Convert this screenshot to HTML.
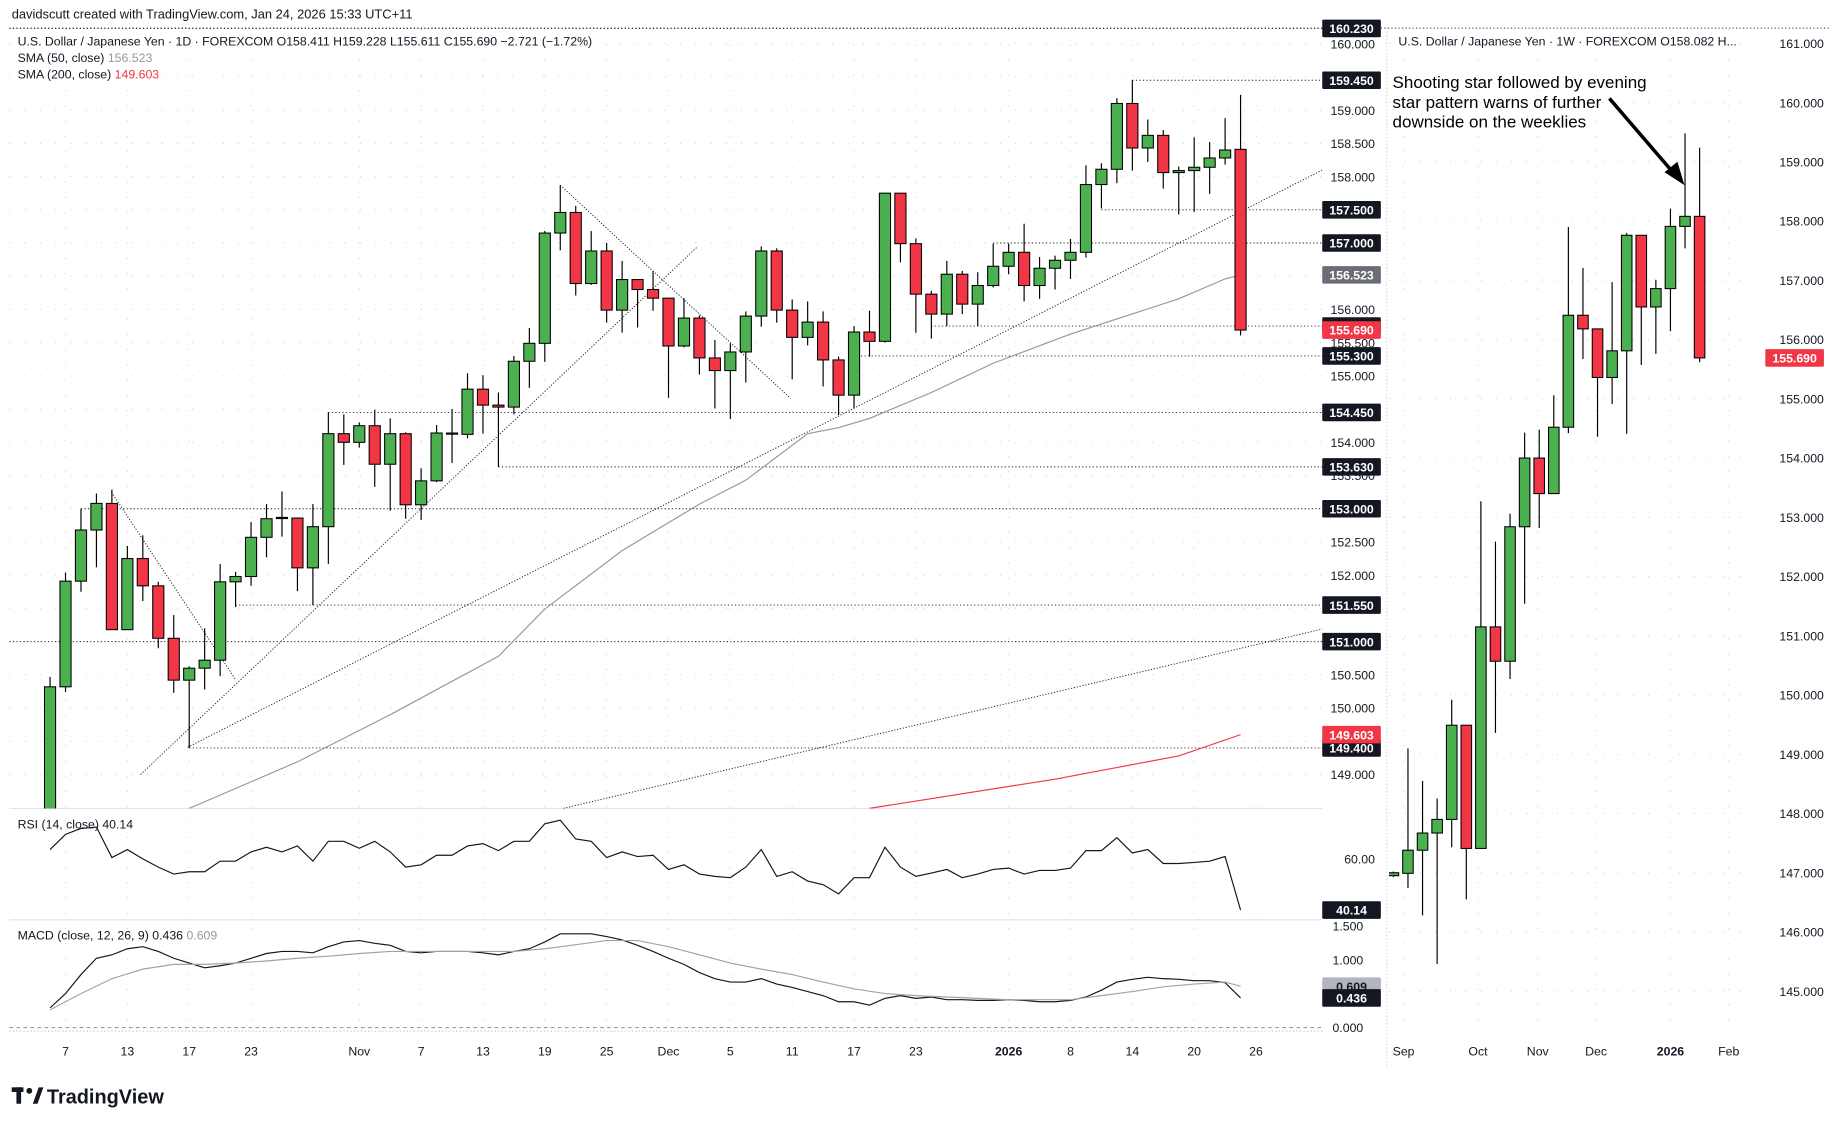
<!DOCTYPE html>
<html><head><meta charset="utf-8"><style>
html,body{margin:0;padding:0;background:#fff;}
svg{display:block;font-family:"Liberation Sans",Arial,sans-serif;}
</style></head><body>
<svg id="chart" width="1838" height="1126" viewBox="0 0 1568 961" preserveAspectRatio="none" xmlns="http://www.w3.org/2000/svg">
<defs>
<clipPath id="dclip"><rect x="8" y="25" width="1120" height="665"/></clipPath>
<clipPath id="wclip"><rect x="1185" y="25" width="305" height="855"/></clipPath>
</defs>
<rect x="0" y="0" width="1568" height="961" fill="#fff"/>
<text x="10" y="16" font-size="11" fill="#131722">davidscutt created with TradingView.com, Jan 24, 2026 15:33 UTC+11</text>
<line x1="8" y1="24" x2="1560" y2="24" stroke="#555" stroke-dasharray="1,2"/>
<line x1="1183" y1="24" x2="1183" y2="910" stroke="#ccc" stroke-dasharray="1,2"/>
<line x1="8" y1="690" x2="1128" y2="690" stroke="#e0e3eb"/>
<line x1="8" y1="785" x2="1128" y2="785" stroke="#e0e3eb"/>
<line x1="8" y1="880" x2="1128" y2="880" stroke="#bbb" stroke-dasharray="1,2"/>
<g id="grid"></g>
<g id="drawings"></g>
<g id="daily" clip-path="url(#dclip)"></g>
<g id="weekly" clip-path="url(#wclip)"></g>
<g id="ind"></g>
<g id="axes"></g>
<text x="15" y="39" font-size="10.5" fill="#131722">U.S. Dollar / Japanese Yen · 1D · FOREXCOM  O158.411  H159.228  L155.611  C155.690  −2.721 (−1.72%)</text>
<text x="15" y="53" font-size="10.5" fill="#131722">SMA (50, close) <tspan fill="#9598a1">156.523</tspan></text>
<text x="15" y="67" font-size="10.5" fill="#131722">SMA (200, close) <tspan fill="#f23645">149.603</tspan></text>
<text x="15" y="707" font-size="10.5" fill="#131722">RSI (14, close) 40.14</text>
<text x="15" y="802" font-size="10.5" fill="#131722">MACD (close, 12, 26, 9)  0.436 <tspan fill="#9598a1">0.609</tspan></text>
<text x="1193" y="39" font-size="10.5" fill="#131722">U.S. Dollar / Japanese Yen · 1W · FOREXCOM  O158.082  H...</text>
<text x="1188" y="75" font-size="14.5" fill="#000"><tspan x="1188" y="75">Shooting star followed by evening</tspan><tspan x="1188" y="92">star pattern warns of further</tspan><tspan x="1188" y="109">downside on the weeklies</tspan></text>
<line x1="1373" y1="84" x2="1428" y2="148" stroke="#000" stroke-width="3"/>
<polygon points="1437,158 1420,147 1431,138" fill="#000"/>
<g>
<rect x="10" y="928" width="10" height="4" fill="#131722"/><rect x="14" y="928" width="4" height="14" fill="#131722"/>
<circle cx="25" cy="931" r="2.5" fill="#131722"/><polygon points="28,942 33,928 37,928 32,942" fill="#131722"/>
<text x="40" y="942" font-size="17" font-weight="bold" fill="#131722">TradingView</text>
</g>
</svg>
<script>
// ---- daily data ----
const dOpen=[148.0,150.32,151.91,152.68,153.08,151.18,152.25,151.84,151.05,150.42,150.6,150.72,151.9,151.98,152.57,152.86,152.86,152.11,152.73,154.13,154.0,154.25,153.67,154.13,153.06,153.42,154.14,154.12,154.80,154.56,154.53,155.22,155.49,157.15,157.46,156.39,156.88,155.99,156.45,156.30,156.17,155.45,155.87,155.27,155.08,155.36,155.90,156.88,155.99,155.58,155.81,155.24,154.71,155.66,155.52,157.75,156.99,156.23,155.93,156.53,156.08,156.36,156.65,156.86,156.36,156.62,156.74,156.86,157.88,158.11,159.10,158.43,158.62,158.06,158.09,158.14,158.28,158.41];
const dHigh=[150.47,152.04,153.0,153.23,153.29,152.44,152.6,151.9,151.4,150.63,151.2,152.17,152.05,152.8,153.07,153.26,152.87,153.07,154.45,154.42,154.3,154.49,154.36,154.15,153.61,154.26,154.5,155.04,155.01,154.75,155.30,155.72,157.18,157.87,157.56,157.18,157.0,156.73,156.45,156.58,156.17,156.17,155.91,155.54,155.49,155.97,156.95,156.92,156.15,156.12,155.97,155.29,155.75,155.98,157.76,157.75,157.07,156.28,156.73,156.58,156.56,156.99,156.99,157.29,156.79,156.81,157.06,158.17,158.20,159.18,159.45,158.86,158.70,158.15,158.59,158.52,158.88,159.23];
const dLow=[147.9,150.24,151.75,152.12,151.18,151.18,151.61,150.9,150.23,149.4,150.28,150.48,151.52,151.84,152.27,152.58,151.76,151.55,152.17,153.66,153.92,153.33,152.97,152.85,152.83,153.4,153.69,154.06,154.13,153.63,154.42,154.82,155.21,156.89,156.21,156.37,155.80,155.65,155.73,155.98,154.67,155.43,155.02,154.51,154.35,154.90,155.74,155.80,154.95,155.46,154.84,154.41,154.51,155.29,155.50,156.71,155.65,155.56,155.75,155.93,155.75,156.33,156.53,156.12,156.16,156.30,156.46,156.78,157.52,157.90,158.09,158.22,157.82,157.43,157.47,157.74,158.18,155.61];
const dClose=[150.32,151.91,152.68,153.08,151.18,152.25,151.84,151.05,150.42,150.6,150.72,151.9,151.98,152.57,152.85,152.87,152.11,152.73,154.13,154.0,154.25,153.67,154.13,153.06,153.42,154.14,154.14,154.80,154.56,154.53,155.22,155.49,157.15,157.46,156.39,156.88,155.99,156.45,156.30,156.17,155.45,155.87,155.27,155.08,155.36,155.90,156.88,155.99,155.58,155.81,155.24,154.71,155.66,155.52,157.75,156.99,156.23,155.93,156.53,156.08,156.36,156.65,156.86,156.36,156.62,156.74,156.86,157.88,158.11,159.10,158.43,158.62,158.06,158.09,158.14,158.28,158.40,155.69];
const sma50Idx=[9,16,22,29,32,37,42,45,49,51,53,57,61,66,73,76,77];
const sma50Val=[148.49,149.19,149.90,150.78,151.49,152.37,153.07,153.43,154.13,154.22,154.36,154.75,155.19,155.63,156.16,156.46,156.52];
const sma200Idx=[53,65,73,77];
const sma200Val=[148.49,148.93,149.28,149.60];
const rsiVal=[63.6,69.5,71.8,72.3,60.5,63.6,60,56.8,54.1,55,55,59.1,59.1,62.7,64.5,62.7,65,59.1,66.8,66.8,64.1,66.8,62.7,56.8,57.7,61.4,61.4,65,65.9,63.2,66.8,66.8,73.6,75,67.7,66.8,60.5,62.7,60.9,61.4,55.9,57.7,54.1,53.2,52.7,56.8,63.6,53.2,55,51.4,50,46.4,52.7,52.7,64.5,56.8,53.2,54.5,55.9,52.7,54.1,55.9,56.4,54.1,55.5,55.5,56.4,63.2,63.2,68.2,62.3,63.6,58.2,58.2,58.6,59.1,60.9,40.14];
const macdVal=[0.29,0.50,0.78,1.02,1.07,1.16,1.19,1.12,1.02,0.95,0.88,0.91,0.95,1.02,1.09,1.12,1.12,1.10,1.19,1.26,1.28,1.24,1.21,1.12,1.10,1.12,1.12,1.12,1.10,1.07,1.12,1.16,1.26,1.38,1.38,1.38,1.34,1.29,1.21,1.12,1.02,0.93,0.81,0.72,0.67,0.67,0.72,0.64,0.59,0.53,0.47,0.38,0.38,0.33,0.43,0.47,0.43,0.45,0.41,0.41,0.40,0.40,0.41,0.40,0.38,0.38,0.40,0.45,0.55,0.67,0.71,0.74,0.72,0.71,0.69,0.69,0.66,0.436];
const signalVal=[0.26,0.50,0.72,0.86,0.93,0.93,0.95,0.98,1.02,1.05,1.09,1.12,1.12,1.12,1.12,1.12,1.16,1.22,1.28,1.28,1.19,1.07,0.95,0.86,0.78,0.67,0.57,0.50,0.47,0.45,0.43,0.41,0.41,0.41,0.47,0.53,0.60,0.64,0.67,0.609];
const signalStep=2;
const dTickLabels=["7","13","17","23","Nov","7","13","19","25","Dec","5","11","17","23","2026","8","14","20","26"];
const dTickIdx=[1,5,9,13,20,24,28,32,36,40,44,48,52,56,62,66,70,74,78];
const dLevels=[160.23,159.45,157.5,157.0,155.75,155.3,154.45,153.63,153.0,151.55,151.0,149.4];
const dLevelStart=[-3,70,68,61,57,52,18,29,2,12,-3,9];
// ---- weekly data ----
const wOpen=[146.95,146.99,147.38,147.67,147.90,149.49,147.41,151.15,150.57,152.84,154.0,153.40,154.52,156.41,156.18,155.36,155.81,157.76,156.55,156.86,157.91,158.08];
const wHigh=[147.02,149.1,148.55,148.25,149.92,149.49,153.27,152.59,153.06,154.43,154.48,155.06,157.90,157.21,156.18,156.97,157.80,157.76,157.01,158.21,159.48,159.24];
const wLow=[146.93,146.74,146.28,145.46,147.43,146.55,147.41,149.36,150.27,151.54,152.82,153.40,154.42,155.67,154.36,154.91,154.41,155.57,155.76,156.14,157.54,155.62];
const wClose=[147.0,147.38,147.67,147.90,149.49,147.41,151.15,150.57,152.84,154.0,153.40,154.52,156.41,156.18,155.36,155.81,157.76,156.55,156.86,157.91,158.08,155.69];
const wTickLabels=["Sep","Oct","Nov","Dec","2026","Feb"];
const wTickIdx=[0.7,5.8,9.9,13.9,19.0,23.0];

const NS="http://www.w3.org/2000/svg";
function el(parent,tag,attrs){const e=document.createElementNS(NS,tag);for(const k in attrs)e.setAttribute(k,attrs[k]);parent.appendChild(e);return e;}
const xD=i=>42.7+i*13.19;
const yD=p=>94+(159-p)*56.7;
const xW=i=>1188.7+i*12.44;
const yW=p=>37+(161-p)*50.56;
const yR=v=>733+(60-v)*2.2;
const yM=v=>877-58*v;
const G=document.getElementById('grid'),DR=document.getElementById('drawings'),DD=document.getElementById('daily'),WW=document.getElementById('weekly'),IN=document.getElementById('ind'),AX=document.getElementById('axes');
const fmt=(v,d)=>v.toFixed(d);

// grid & daily price axis
for(let p=149;p<=160;p+=0.5){
  const y=yD(p);
  const g=el(G,'line',{x1:8,x2:1128,y1:y,y2:y,stroke:'#d6d9e0','stroke-dasharray':'1,12'});
  
  
  const t=el(AX,'text',{x:1173,y:y+4,'font-size':10.5,'text-anchor':'end',fill:'#131722'});
  t.textContent=fmt(p,3);
  
  
}
dTickIdx.forEach((i,k)=>{
  const x=xD(i);
  const g=el(G,'line',{x1:x,x2:x,y1:25,y2:880,stroke:'#d6d9e0','stroke-dasharray':'1,12'});
  
  
  const t=el(AX,'text',{x:x,y:901,'font-size':10.5,'text-anchor':'middle',fill:'#131722','font-weight':dTickLabels[k]==='2026'?'bold':'normal'});
  t.textContent=dTickLabels[k];
  
  
});
// horizontal level drawings
dLevels.forEach((p,k)=>{
  const l=el(DR,'line',{x1:Math.max(8,xD(dLevelStart[k])),x2:1128,y1:yD(p),y2:yD(p),stroke:'#131722','stroke-dasharray':'1,2','stroke-width':0.8});
  
  
});
// trend lines [i1,p1,i2,p2]
const trendA=[3.97,153.25,12.0,150.43];
const trendB=[5.86,149.0,41.9,156.95];
const trendC=[33.0,157.87,47.9,154.66];
const trendD=[8.9,149.41,82.3,158.1];
const trendE=[33.2,148.49,82.3,151.19];
[trendA,trendB,trendC,trendD,trendE].forEach(t=>{
  const l=el(DR,'line',{x1:xD(t[0]),y1:yD(t[1]),x2:xD(t[2]),y2:yD(t[3]),stroke:'#131722','stroke-dasharray':'1,1.5','stroke-width':0.8,'clip-path':'url(#dclip)'});
  
  
});
// SMA lines
function poly(parent,pts,color,w){const e=el(parent,'polyline',{points:pts.map(p=>p.join(',')).join(' '),fill:'none',stroke:color,'stroke-width':w});return e;}
const s50=poly(DD,sma50Idx.map((i,k)=>[xD(i),yD(sma50Val[k])]),'#9598a1',1);


const s200=poly(DD,sma200Idx.map((i,k)=>[xD(i),yD(sma200Val[k])]),'#f23645',1);


// daily candles
function candle(parent,x,yo,yh,yl,yc,w,name){
  const up=yc<=yo;
  const wk=el(parent,'line',{x1:x,x2:x,y1:yh,y2:yl,stroke:'#000','stroke-width':1});
  
  
  const top=Math.min(yo,yc),h=Math.max(1,Math.abs(yo-yc));
  const b=el(parent,'rect',{x:x-w/2,y:top,width:w,height:h,fill:up?'#4caf50':'#f23645',stroke:'#000','stroke-width':0.9});
  
  
}
dOpen.forEach((o,i)=>candle(DD,xD(i),yD(o),yD(dHigh[i]),yD(dLow[i]),yD(dClose[i]),9.5,'daily-candle'));
// weekly grid / axis
for(let p=145;p<=161;p+=1){
  const y=yW(p);
  const g=el(G,'line',{x1:1185,x2:1490,y1:y,y2:y,stroke:'#d6d9e0','stroke-dasharray':'1,12'});
  
  
  const t=el(AX,'text',{x:1537,y:y+4,'font-size':10.5,'text-anchor':'middle',fill:'#131722'});
  t.textContent=fmt(p,3);
  
  
}
wTickIdx.forEach((i,k)=>{
  const x=xW(i);
  const g=el(G,'line',{x1:x,x2:x,y1:25,y2:880,stroke:'#d6d9e0','stroke-dasharray':'1,12'});
  
  
  const t=el(AX,'text',{x:x,y:901,'font-size':10.5,'text-anchor':'middle',fill:'#131722','font-weight':wTickLabels[k]==='2026'?'bold':'normal'});
  t.textContent=wTickLabels[k];
  
  
});
wOpen.forEach((o,i)=>candle(WW,xW(i),yW(o),yW(wHigh[i]),yW(wLow[i]),yW(wClose[i]),9,'weekly-candle'));
// RSI
const rsi=poly(IN,rsiVal.map((v,i)=>[xD(i),yR(v)]),'#131722',1);


const macd=poly(IN,macdVal.map((v,i)=>[xD(i),yM(v)]),'#131722',1);


const sig=poly(IN,signalVal.map((v,k)=>[xD(Math.min(k*signalStep,dClose.length-1)),yM(v)]),'#a0a3ab',1);


const zl=el(IN,'line',{x1:8,x2:1128,y1:yM(0),y2:yM(0),stroke:'#9598a1','stroke-dasharray':'3,3'});


const rTicks=[[60,'60.00']];
rTicks.forEach(r=>{const t=el(AX,'text',{x:1173,y:yR(r[0])+4,'font-size':10.5,'text-anchor':'end',fill:'#131722'});t.textContent=r[1];
  
  });
[1.5,1.0,0].forEach(v=>{const t=el(AX,'text',{x:1163,y:yM(v)+4,'font-size':10.5,'text-anchor':'end',fill:'#131722'});t.textContent=fmt(v,3);
  
  });
// price labels boxes
function box(x,y,w,txt,bg,fg,name){
  const r=el(AX,'rect',{x:x,y:y-7.5,width:w,height:15,fill:bg,rx:1});
  
  
  const t=el(AX,'text',{x:x+w/2,y:y+4,'font-size':10.5,'text-anchor':'middle',fill:fg,'font-weight':'bold'});
  t.textContent=txt;
  
  
}
dLevels.forEach(p=>box(1128,yD(p),50,fmt(p,3),'#131722','#fff','level-label'));
box(1128,yD(sma50Val[sma50Val.length-1]),50,'156.523','#6a6d78','#fff','sma50-label');
box(1128,yD(dClose[dClose.length-1]),50,fmt(dClose[dClose.length-1],3),'#f23645','#fff','daily-last-price-label');
box(1128,yD(sma200Val[sma200Val.length-1]),50,'149.603','#f23645','#fff','sma200-label');
box(1128,yR(rsiVal[rsiVal.length-1]),50,fmt(rsiVal[rsiVal.length-1],2),'#131722','#fff','rsi-value-label');
box(1128,yM(0.609),50,'0.609','#b2b5be','#131722','signal-value-label');
box(1128,yM(macdVal[macdVal.length-1]),50,fmt(macdVal[macdVal.length-1],3),'#131722','#fff','macd-value-label');
box(1506,yW(wClose[wClose.length-1]),50,fmt(wClose[wClose.length-1],3),'#f23645','#fff','weekly-last-price-label');
</script>
</body></html>
